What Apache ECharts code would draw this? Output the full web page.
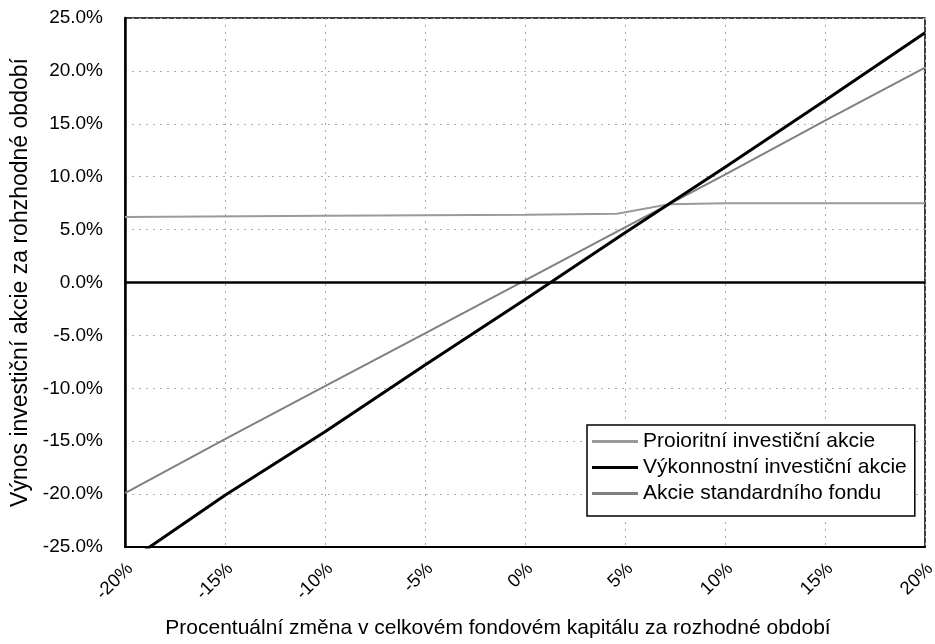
<!DOCTYPE html>
<html>
<head>
<meta charset="utf-8">
<script src="https://cdn.jsdelivr.net/npm/echarts@6/dist/echarts.min.js"></script>
<style>html,body{margin:0;padding:0;background:#fff;}#c{width:935px;height:644px;}</style>
</head>
<body>
<div id="c"></div>
<script>
const xTicks = [-20, -15, -10, -5, 0, 5, 10, 15, 20];
const standardX = [-20, -15, -10, -5, 0, 5, 10, 15, 20];
const standardY = [-19.9, -14.8, -9.8, -4.8, 0.2, 5.2, 10.2, 15.3, 20.3];
const performanceX = [-20, -15, -10, -5, 0, 5, 10, 15, 20];
const performanceY = [-26.6, -20.1, -14.1, -7.8, -1.6, 4.7, 10.9, 17.2, 23.6];
const preferredX = [-20, -10, 0, 4.6, 7.2, 10, 20];
const preferredY = [6.2, 6.3, 6.4, 6.5, 7.4, 7.5, 7.5];
const names = ['Proioritní investiční akcie', 'Výkonnostní investiční akcie', 'Akcie standardního fondu'];

const pairs = (xs, ys) => xs.map((x, i) => [x, ys[i]]);
const font = 'Liberation Sans, Arial, sans-serif';
const chart = echarts.init(document.getElementById('c'));
chart.setOption({
  animation: false,
  backgroundColor: '#fff',
  grid: { left: 125, right: 10, top: 18, bottom: 97, show: true, borderColor: '#000', borderWidth: 1.5,
          containLabel: false, outerBoundsMode: 'none' },
  xAxis: {
    type: 'value', min: -20, max: 20, interval: 5,
    name: 'Procentuální změna v celkovém fondovém kapitálu za rozhodné období',
    nameLocation: 'middle', nameGap: 71,
    nameTextStyle: { fontFamily: font, fontSize: 21, color: '#000', padding: [0, 54, 0, 0] },
    axisLine: { onZero: false, lineStyle: { color: '#000', width: 2 } },
    axisTick: { show: false },
    axisLabel: { rotate: 45, fontFamily: font, fontSize: 18.5, color: '#000', margin: 24, padding: [0, -7, 0, 0], formatter: v => v + '%' },
    splitLine: { show: true, lineStyle: { color: '#aaa', type: [2, 5], width: 1 } }
  },
  yAxis: {
    type: 'value', min: -25, max: 25, interval: 5,
    name: 'Výnos investiční akcie za rohzhodné období',
    nameLocation: 'middle', nameGap: 91,
    nameTextStyle: { fontFamily: font, fontSize: 23, color: '#000' },
    axisLine: { onZero: false, lineStyle: { color: '#000', width: 2.5 } },
    axisTick: { show: false },
    axisLabel: { fontFamily: font, fontSize: 19, color: '#000', margin: 22, formatter: v => v.toFixed(1) + '%' },
    splitLine: { show: true, lineStyle: { color: '#aaa', type: [2, 5], width: 1 } }
  },
  legend: {
    orient: 'vertical', left: 587, top: 425,
    padding: [4, 8, 10, 5], itemGap: 1, itemWidth: 46, itemHeight: 3,
    icon: 'rect',
    borderColor: '#000', borderWidth: 1.5, backgroundColor: '#fff',
    textStyle: { fontFamily: font, fontSize: 21, lineHeight: 25, color: '#000' },
    data: names
  },
  series: [
    { name: names[0], type: 'line', data: pairs(preferredX, preferredY), showSymbol: false, symbol: 'none',
      lineStyle: { color: '#9a9a9a', width: 2 }, itemStyle: { color: '#9a9a9a' }, z: 3 },
    { name: names[1], type: 'line', data: pairs(performanceX, performanceY), showSymbol: false, symbol: 'none',
      lineStyle: { color: '#000', width: 3 }, itemStyle: { color: '#000' }, z: 4,
      markLine: { silent: true, symbol: 'none', label: { show: false },
        lineStyle: { color: '#000', type: 'solid', width: 2.5 }, data: [{ yAxis: 0 }] } },
    { name: names[2], type: 'line', data: pairs(standardX, standardY), showSymbol: false, symbol: 'none',
      lineStyle: { color: '#808080', width: 2 }, itemStyle: { color: '#808080' }, z: 3 }
  ]
});
</script>
</body>
</html>
